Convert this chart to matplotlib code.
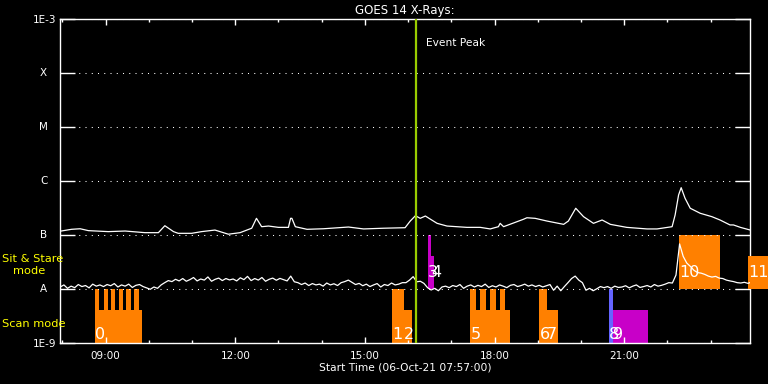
import numpy as np
import matplotlib.pyplot as plt
from matplotlib.ticker import FixedLocator, FuncFormatter

# GOES 14 long channel (1-8 A): hours of 06-Oct-21, flux in 1e-7 W/m^2
xrsb_time = [7.97, 8.21, 8.41, 8.60, 9.06, 9.45, 9.91, 10.22, 10.37, 10.57, 10.68, 10.99,
             11.22, 11.53, 11.84, 12.11, 12.38, 12.49, 12.61, 12.77, 13.00, 13.23, 13.28,
             13.31, 13.39, 13.66, 14.04, 14.62, 14.97, 15.43, 15.93, 16.05, 16.17, 16.28,
             16.40, 16.51, 16.67, 16.90, 17.36, 17.67, 17.90, 18.09, 18.13, 18.21, 18.67,
             18.75, 18.94, 19.21, 19.60, 19.71, 19.88, 20.06, 20.29, 20.49, 20.68, 21.06,
             21.53, 21.76, 22.11, 22.18, 22.26, 22.32, 22.41, 22.53, 22.76, 23.03, 23.22,
             23.45, 23.53, 23.69, 23.92]
xrsb = [1.18, 1.27, 1.30, 1.20, 1.15, 1.18, 1.10, 1.10, 1.48, 1.15, 1.07, 1.07,
        1.15, 1.23, 1.03, 1.10, 1.33, 2.03, 1.42, 1.46, 1.38, 1.38, 2.03,
        2.03, 1.42, 1.27, 1.30, 1.40, 1.29, 1.33, 1.36, 1.81, 2.27, 2.03,
        2.24, 1.97, 1.64, 1.46, 1.38, 1.38, 1.29, 1.42, 1.64, 1.42, 1.95,
        2.08, 2.03, 1.81, 1.57, 1.81, 3.12, 2.18, 1.64, 1.89, 1.57, 1.38,
        1.29, 1.29, 1.42, 2.34, 5.50, 7.52, 4.78, 3.12, 2.52, 2.18, 1.89,
        1.53, 1.53, 1.38, 1.23]

# short channel (0.5-4 A), 5 min cadence from 07:57, flux in 1e-8 W/m^2
xrsa_start = 7.95
xrsa = [1.08, 1.18, 1.02, 1.12, 1.05, 1.20, 1.10, 1.15, 1.04, 1.22, 1.12, 1.18,
        1.10, 1.20, 1.14, 1.25, 1.08, 1.18, 1.12, 1.22, 1.06, 1.16, 1.20, 1.10,
        1.04, 0.98, 1.08, 1.02, 1.18, 1.30, 1.42, 1.36, 1.50, 1.40, 1.55, 1.38,
        1.48, 1.62, 1.40, 1.52, 1.45, 1.66, 1.38, 1.50, 1.58, 1.42, 1.55, 1.46,
        1.52, 1.40, 1.60, 1.48, 1.70, 1.42, 1.55, 1.45, 1.62, 1.38, 1.50, 1.58,
        1.44, 1.56, 1.48, 1.40, 1.72, 1.35, 1.30, 1.20, 1.28, 1.15, 1.25, 1.18,
        1.22, 1.12, 1.28, 1.18, 1.24, 1.15, 1.30, 1.36, 1.45, 1.32, 1.20, 1.26,
        1.14, 1.22, 1.10, 1.18, 1.25, 1.08, 1.20, 1.15, 1.28, 1.18, 1.22, 1.30,
        1.30, 1.45, 1.68, 1.35, 1.38, 1.26, 1.05, 0.95, 1.02, 0.92, 1.08, 1.12,
        1.05, 1.15, 1.10, 1.20, 1.02, 1.12, 1.18, 1.08, 1.16, 1.10, 1.22, 1.06,
        1.14, 1.08, 1.18, 1.12, 1.05, 1.16, 1.20, 1.10, 1.15, 1.22, 1.12, 1.18,
        1.10, 1.16, 1.08, 1.14, 1.20, 0.94, 1.12, 0.92, 1.10, 1.30, 1.55, 1.72,
        1.45, 1.30, 0.94, 1.02, 0.92, 1.00, 1.10, 1.05, 1.10, 1.02, 1.12, 1.06,
        1.08, 1.14, 1.04, 1.12, 1.18, 1.06, 1.10, 1.15, 1.08, 1.20, 1.12, 1.16,
        1.22, 1.30, 1.28, 1.80, 6.80, 4.00, 3.00, 2.60, 2.20, 2.00, 1.95, 1.85,
        1.72, 1.65, 1.70, 1.58, 1.55, 1.45, 1.40, 1.36, 1.30, 1.28, 1.32, 1.26, 1.34]

# observations (IRIS-like): start / end hour, flux band, colour
obs_label = ['0', '1', '2', '3', '4', '5', '6', '7', '8', '9', '10', '11']
obs_start = [8.76, 15.63, 15.91, 16.46, 16.53, 17.44, 19.04, 19.22, 20.65, 20.74, 22.27, 23.87]
obs_end = [9.84, 15.91, 16.10, 16.53, 16.59, 18.36, 19.22, 19.48, 20.74, 21.55, 23.22, 24.40]
obs_low = [1e-9, 1e-9, 1e-9, 1e-8, 1e-8, 1e-9, 1e-9, 1e-9, 1e-9, 1e-9, 1e-8, 1e-8]
obs_high = [4.1e-9, 1e-8, 4.1e-9, 1e-7, 4.1e-8, 4.1e-9, 1e-8, 4.1e-9, 1e-8, 4.1e-9, 1e-7, 4.1e-8]
obs_color = ['#ff8000', '#ff8000', '#ff8000', '#c800c8', '#c800c8', '#ff8000',
             '#ff8000', '#ff8000', '#6464ff', '#c800c8', '#ff8000', '#ff8000']

# raster steps of obs 0 and obs 5
step_start = [8.76, 8.95, 9.12, 9.30, 9.48, 9.66, 17.44, 17.67, 17.90, 18.13]
step_end = [8.85, 9.05, 9.22, 9.40, 9.58, 9.76, 17.58, 17.81, 18.04, 18.25]

event_peak = 16.19
t_start, t_end = 7.95, 23.92

class_levels = [1e-8, 1e-7, 1e-6, 1e-5, 1e-4]
class_names = ['A', 'B', 'C', 'M', 'X']

fig = plt.figure(figsize=(7.68, 3.84), dpi=100, facecolor='black')
ax = fig.add_axes([60.3 / 768, 41.3 / 384, 690 / 768, 323.4 / 384])
ax.set_facecolor('black')
ax.set_yscale('log')
ax.set_xlim(t_start, t_end)
ax.set_ylim(1e-9, 1e-3)

# observation boxes
widths = np.array(obs_end) - np.array(obs_start)
heights = np.array(obs_high) - np.array(obs_low)
bars = ax.bar(obs_start, heights, widths, bottom=obs_low, align='edge',
              color=obs_color, linewidth=0)
bars.patches[-1].set_clip_on(False)
bars.patches[-1].set_zorder(3)
ax.bar(step_start, [1e-8 - 1e-9] * len(step_start), np.array(step_end) - np.array(step_start),
       bottom=1e-9, align='edge', color='#ff8000', linewidth=0)

for lab, s, lo in zip(obs_label, obs_start, obs_low):
    y = 1.17e-9 if lo < 5e-9 else 1.66e-8
    ax.text(s, y, lab, color='white', fontsize=11.5, ha='left', va='baseline', zorder=6)

# GOES curves
ta = xrsa_start + np.arange(len(xrsa)) * 5 / 60
ax.plot(xrsb_time, np.array(xrsb) * 1e-7, color='white', lw=0.9, zorder=4)
ax.plot(ta, np.array(xrsa) * 1e-8, color='white', lw=0.9, zorder=4)

# event peak
ax.axvline(event_peak, color='#99cc00', lw=1.6, zorder=5)
ax.text(event_peak + 0.22, 3.6e-4, 'Event Peak', color='white', fontsize=7.7,
        ha='left', va='center')

# axes styling
for sp in ax.spines.values():
    sp.set_color('white')
    sp.set_linewidth(1)

ax.yaxis.set_major_locator(FixedLocator([1e-9, 1e-8, 1e-7, 1e-6, 1e-5, 1e-4, 1e-3]))
ax.yaxis.set_minor_locator(FixedLocator([]))
ax.set_yticklabels(['1E-9', '', '', '', '', '', '1E-3'])
ax.tick_params(axis='y', which='major', direction='in', length=10.5, width=1,
               colors='white', labelsize=7.5, right=True, pad=3)
ax.grid(axis='y', which='major', color='white', linestyle=(0, (1, 5)), linewidth=0.75)

for lev, name in zip(class_levels, class_names):
    ax.text(-0.024, lev, name, transform=ax.get_yaxis_transform(), color='white',
            fontsize=7.5, ha='center', va='center')

ax.xaxis.set_major_locator(FixedLocator([9, 12, 15, 18, 21]))
ax.xaxis.set_minor_locator(FixedLocator(list(range(8, 24))))
ax.xaxis.set_major_formatter(FuncFormatter(lambda v, p: '%02d:00' % int(round(v))))
ax.tick_params(axis='x', which='major', direction='in', length=4.5, width=1,
               colors='white', labelsize=7.5, top=True, pad=6)
ax.tick_params(axis='x', which='minor', direction='in', length=2.5, width=1,
               colors='white', top=True)

ax.set_title('GOES 14 X-Rays:', color='white', fontsize=8.5, pad=3.5)
ax.set_xlabel('Start Time (06-Oct-21 07:57:00)', color='white', fontsize=7.7, labelpad=1)

# mode labels on the left
fig.text(2 / 768, 1 - 259 / 384, 'Sit & Stare', color='yellow', fontsize=8.2, va='center')
fig.text(13 / 768, 1 - 271 / 384, 'mode', color='yellow', fontsize=8.2, va='center')
fig.text(2 / 768, 1 - 324 / 384, 'Scan mode', color='yellow', fontsize=8.2, va='center')

fig.savefig('out.png', dpi=100, facecolor='black')
